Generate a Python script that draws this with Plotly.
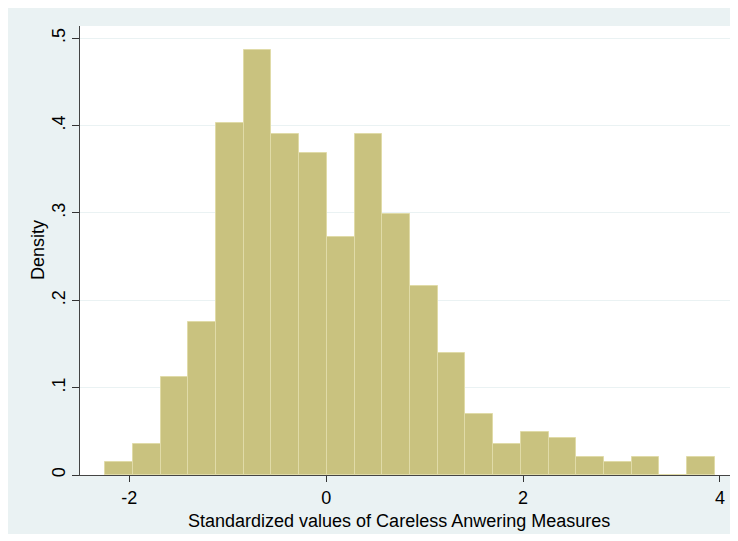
import plotly.graph_objects as go

# Histogram data (density per bin)
bin_start = -2.245
bin_width = 0.2815
density = [0.015, 0.035, 0.112, 0.175, 0.403, 0.487, 0.390, 0.369, 0.272,
           0.390, 0.299, 0.216, 0.140, 0.070, 0.035, 0.049, 0.042, 0.021,
           0.015, 0.021, 0.0, 0.021]

x_ticks = [-2, 0, 2, 4]
x_ticklabels = ["-2", "0", "2", "4"]
y_ticks = [0, 0.1, 0.2, 0.3, 0.4, 0.5]
y_ticklabels = ["0", ".1", ".2", ".3", ".4", ".5"]

x_title = "Standardized values of Careless Anwering Measures"
y_title = "Density"

centers = [bin_start + bin_width * (i + 0.5) for i in range(len(density))]

# page is offset by the 8px body margin
W, H = 728, 526
ml, mr, mt, mb = 72, 4, 18, 59
pw, ph = W - ml - mr, H - mt - mb

fig = go.Figure()
fig.add_trace(go.Bar(
    x=centers, y=density, width=[bin_width] * len(density),
    marker=dict(color="#C9C27F", line=dict(color="#E0DBA8", width=1)),
    hoverinfo="x+y",
))

FONT = "Liberation Sans, Arial, Helvetica, sans-serif"
FS = 18

def page_x(px):
    return (px - 8 - ml) / pw

def page_y(py):
    return (H - mb - (py - 8)) / ph

fig.update_layout(
    width=W, height=H,
    margin=dict(l=ml, r=mr, t=mt, b=mb, pad=0),
    paper_bgcolor="#EAF2F3",
    plot_bgcolor="white",
    showlegend=False,
    bargap=0,
    font=dict(family=FONT, size=FS, color="black"),
    annotations=[
        dict(text=x_title, xref="paper", yref="paper",
             x=page_x(399), y=page_y(521), xanchor="center", yanchor="middle",
             showarrow=False, font=dict(family=FONT, size=FS, color="black")),
        dict(text=y_title, xref="paper", yref="paper", textangle=-90,
             x=page_x(38), y=page_y(250), xanchor="center", yanchor="middle",
             showarrow=False, font=dict(family=FONT, size=FS, color="black")),
    ],
    xaxis=dict(
        range=[-2.501, 4.122],
        tickmode="array", tickvals=x_ticks, ticktext=x_ticklabels,
        ticks="outside", ticklen=6, tickcolor="#333333", tickwidth=1,
        showgrid=False, zeroline=False,
        showline=True, linecolor="#444444", linewidth=1.3,
        tickfont=dict(family=FONT, size=FS, color="black"),
    ),
    yaxis=dict(
        range=[0, 0.5141],
        tickmode="array", tickvals=y_ticks, ticktext=y_ticklabels,
        ticks="outside", ticklen=7, tickcolor="#333333", tickwidth=1,
        tickangle=-90,
        showgrid=True, gridcolor="#EAF2F3", gridwidth=1.2,
        zeroline=False,
        showline=True, linecolor="#444444", linewidth=1.3,
        tickfont=dict(family=FONT, size=FS, color="black"),
    ),
)

fig.write_html("out.html")
